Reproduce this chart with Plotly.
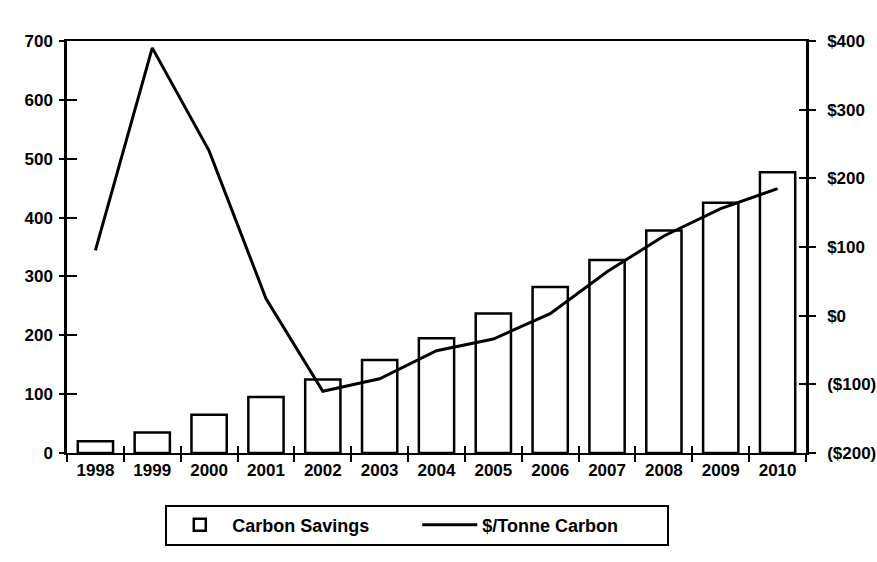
import plotly.graph_objects as go

years = ["1998", "1999", "2000", "2001", "2002", "2003", "2004", "2005", "2006",
         "2007", "2008", "2009", "2010"]
carbon_savings = [20, 35, 65, 95, 125, 158, 195, 237, 282, 328, 378, 425, 477]
dollars_per_tonne = [95, 390, 240, 25, -110, -92, -51, -34, 3, 64, 116, 156, 185]

left_ticks = [0, 100, 200, 300, 400, 500, 600, 700]
right_ticks = [-200, -100, 0, 100, 200, 300, 400]
right_labels = ["($200)", "($100)", "$0", "$100", "$200", "$300", "$400"]

FONT = "Liberation Sans, Arial, sans-serif"
tickfont = dict(family=FONT, size=17, color="black", weight="bold")

fig = go.Figure()
fig.add_trace(go.Bar(
    x=years, y=carbon_savings, name="Carbon Savings", width=0.62,
    marker=dict(color="white", line=dict(color="black", width=2.5)),
    xaxis="x", yaxis="y",
))
fig.add_trace(go.Scatter(
    x=years, y=dollars_per_tonne, name="$/Tonne Carbon", mode="lines",
    line=dict(color="black", width=3),
    xaxis="x", yaxis="y2",
))
# invisible traces to attach the tick-only overlay axes
fig.add_trace(go.Scatter(x=years, y=carbon_savings, xaxis="x2", yaxis="y3", mode="markers",
                         marker=dict(opacity=0), showlegend=False, hoverinfo="skip"))
fig.add_trace(go.Scatter(x=years, y=dollars_per_tonne, xaxis="x2", yaxis="y4", mode="markers",
                         marker=dict(opacity=0), showlegend=False, hoverinfo="skip"))

xr = [-0.5, len(years) - 0.5]
fig.update_layout(
    width=877, height=562,
    margin=dict(l=67, r=71, t=41, b=109, autoexpand=False),
    paper_bgcolor="white", plot_bgcolor="white",
    showlegend=True,
    xaxis=dict(
        type="category", range=xr, tickson="boundaries",
        ticks="outside", ticklen=7, tickwidth=2, tickcolor="black",
        showgrid=False, zeroline=False, automargin=False,
        showline=True, linecolor="black", linewidth=2, mirror=True,
        tickfont=tickfont, ticklabelstandoff=1,
    ),
    xaxis2=dict(
        type="category", range=xr, tickson="boundaries", overlaying="x",
        anchor="y3", side="bottom", showticklabels=False,
        ticks="inside", ticklen=7, tickwidth=2, tickcolor="black",
        showgrid=False, zeroline=False, showline=False, automargin=False,
    ),
    yaxis=dict(
        range=[0, 700], tickvals=left_ticks, showgrid=False, zeroline=False,
        showline=True, linecolor="black", linewidth=2.5, automargin=False,
        ticks="outside", ticklen=5, tickwidth=2, tickcolor="black",
        tickfont=tickfont, ticklabelstandoff=3,
    ),
    yaxis3=dict(
        range=[0, 700], tickvals=left_ticks, overlaying="y", side="left",
        anchor="x2", automargin=False,
        showticklabels=False, showgrid=False, zeroline=False,
        ticks="inside", ticklen=10, tickwidth=2, tickcolor="black",
    ),
    yaxis2=dict(
        range=[-200, 400], tickvals=right_ticks, ticktext=right_labels,
        overlaying="y", side="right", anchor="x", automargin=False,
        showgrid=False, zeroline=False,
        showline=True, linecolor="black", linewidth=2.5,
        ticks="outside", ticklen=7, tickwidth=2, tickcolor="black",
        tickfont=tickfont, ticklabelstandoff=8,
    ),
    yaxis4=dict(
        range=[-200, 400], tickvals=right_ticks, overlaying="y", side="right",
        anchor="x2", automargin=False,
        showticklabels=False, showgrid=False, zeroline=False,
        ticks="inside", ticklen=7, tickwidth=2, tickcolor="black",
    ),
    legend=dict(
        orientation="h", x=0.133, y=-0.125, xanchor="left", yanchor="top",
        bordercolor="black", borderwidth=2, bgcolor="white",
        font=dict(family=FONT, size=18, color="black", weight="bold"),
        itemwidth=55, entrywidth=180, entrywidthmode="pixels", valign="middle",
    ),
)

fig.write_html("out.html")
